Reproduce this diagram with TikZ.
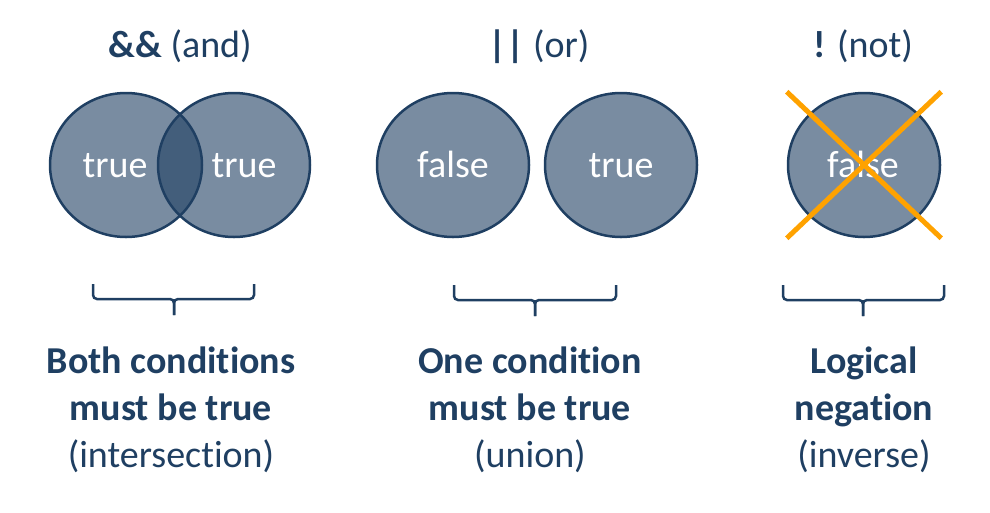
\documentclass[tikz,border=0pt]{standalone}
\usepackage{fontspec}
\setmainfont{Carlito}[Ligatures=CommonOff]
\usetikzlibrary{shapes.geometric}
\definecolor{navy}{HTML}{1F3F62}
\definecolor{crossorange}{HTML}{FFA200}

\tikzset{
  setcirc/.style={ellipse, draw=navy, line width=2.5pt, fill=navy, fill opacity=0.6, minimum width=152pt, minimum height=144pt, inner sep=0pt},
  intext/.style={text=white, font=\fontsize{38}{46}\selectfont, anchor=base},
  title/.style={text=navy, font=\fontsize{38}{46}\selectfont, anchor=base},
  caption/.style={text=navy, font=\fontsize{38}{47}\selectfont, align=center, anchor=base},
  brace/.style={draw=navy, line width=2.5pt, rounded corners=4pt},
  cross/.style={draw=crossorange, line width=5pt}
}

\begin{document}
\begin{tikzpicture}[x=1pt, y=-1pt]
\useasboundingbox (0,0) rectangle (990,512);

%and
\node[title] (andtitle) at (180,57) {\textbf{\&\&} (and)};
\node[setcirc] (andl) at (126,165) {}; %left set
\node[setcirc] (andr) at (234,165) {}; %right set
\node[intext] (andltxt) at (115,177) {true};
\node[intext] (andrtxt) at (244,177) {true};
\draw[brace] (93,284) -- (93,299) -- (174,299) -- (174,315);
\draw[brace] (254,284) -- (254,299) -- (174,299) -- (174,315);
\node[caption] (andcap) at (171,467) {\textbf{Both conditions}\\\textbf{must be true}\\(intersection)};

%or
\node[title] (ortitle) at (539,57) {\textbf{||} (or)};
\node[setcirc] (orl) at (453,165) {}; %left set
\node[setcirc] (orr) at (621,165) {}; %right set
\node[intext] (orltxt) at (453,177) {false};
\node[intext] (orrtxt) at (621,177) {true};
\draw[brace] (454,285) -- (454,300) -- (535,300) -- (535,316);
\draw[brace] (616,285) -- (616,300) -- (535,300) -- (535,316);
\node[caption] (orcap) at (530,467) {\textbf{One condition}\\\textbf{must be true}\\(union)};

%not
\node[title] (nottitle) at (863,57) {\textbf{!} (not)};
\node[setcirc] (notc) at (864,165) {};
\node[intext] (notctxt) at (863,177) {false};
\draw[cross] (notc.west |- notc.north) -- (notc.east |- notc.south); %cross out
\draw[cross] (notc.east |- notc.north) -- (notc.west |- notc.south);
\draw[brace] (783,285) -- (783,300) -- (863,300) -- (863,316);
\draw[brace] (944,285) -- (944,300) -- (863,300) -- (863,316);
\node[caption] (notcap) at (864,467) {\textbf{Logical}\\\textbf{negation}\\(inverse)};

\end{tikzpicture}
\end{document}
